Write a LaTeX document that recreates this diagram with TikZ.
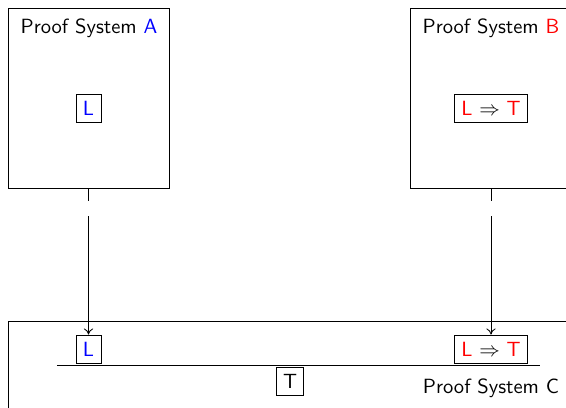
\documentclass[tikz,border=0pt]{standalone}
\usetikzlibrary{arrows.meta}
\begin{document}
\begin{tikzpicture}[x=0.4864pt,y=-0.4864pt,
  font=\sffamily,
  system/.style={draw, inner sep=0pt},
  term/.style={draw, inner sep=3.33pt},
  title/.style={anchor=base, inner sep=0pt},
  link/.style={-{To[length=3pt,width=4.5pt]}}]
\useasboundingbox (0,0) rectangle (566,407);

% the three proof systems
\node[system, minimum width=78.3pt, minimum height=87.5pt] (A) at (88.5,98) {};
\node[system, minimum width=78.3pt, minimum height=87.5pt] (B) at (491,98) {};
\node[system, minimum width=273.8pt, minimum height=48.2pt] (C) at (289.5,370.5) {};

\node[title] (tA) at (89,33) {Proof System \textcolor{blue}{A}};
\node[title] (tB) at (491,33) {Proof System \textcolor{red}{B}};
\node[title] (tC) at (491,393) {Proof System C};

% statements inside the systems
\node[term] (LA) at (88.5,108) {\textcolor{blue}{L}};
\node[term] (LTB) at (491,108) {\textcolor{red}{L} $\Rightarrow$ \textcolor{red}{T}};
\node[term] (LC) at (88.5,349) {\textcolor{blue}{L}};
\node[term] (LTC) at (491,349) {\textcolor{red}{L} $\Rightarrow$ \textcolor{red}{T}};
\node[term] (T) at (290,381.5) {T};

% inference rule bar
\coordinate (barL) at (57,365);
\coordinate (barR) at (540,365);
\draw (barL) -- (barR);

% imports from A and B into C
\coordinate (a1) at (LC.north |- 0,201);
\coordinate (a2) at (LC.north |- 0,216);
\coordinate (b1) at (LTC.north |- 0,201);
\coordinate (b2) at (LTC.north |- 0,216);
\draw (LC.north |- A.south) -- (a1);
\draw[link] (a2) -- (LC.north);
\draw (LTC.north |- B.south) -- (b1);
\draw[link] (b2) -- (LTC.north);
\end{tikzpicture}
\end{document}
